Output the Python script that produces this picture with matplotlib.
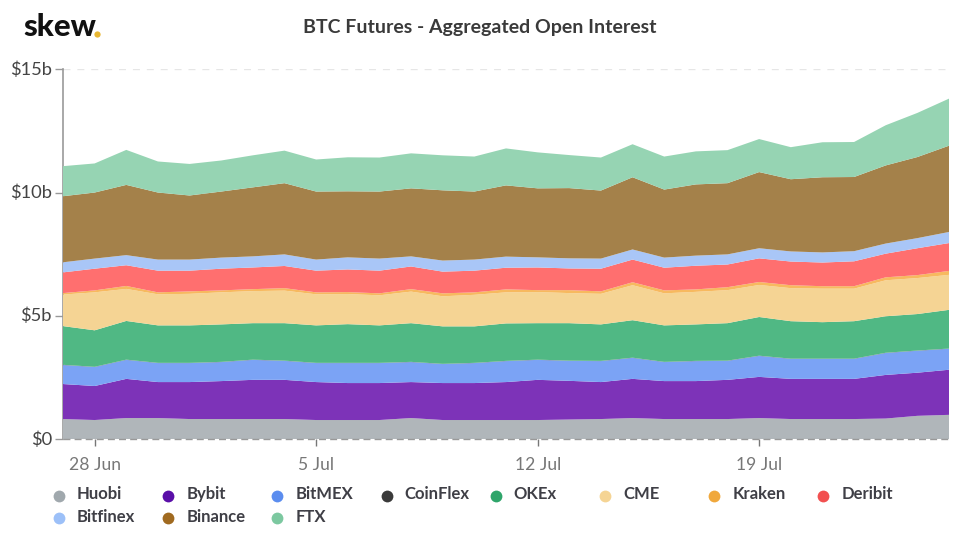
import numpy as np
import pandas as pd
import matplotlib
matplotlib.use('Agg')
import matplotlib.pyplot as plt
import matplotlib.dates as mdates
from matplotlib.lines import Line2D
from matplotlib.transforms import ScaledTranslation

plt.rcParams['font.family'] = ['Lato', 'DejaVu Sans']

# open interest per exchange, $b, one value per day
dates = pd.date_range('2020-06-27', '2020-07-25', freq='D')
huobi = [.81,.77,.85,.85,.81,.81,.81,.81,.77,.77,.77,.85,.77,.77,.77,.77,.79,.81,.85,.81,.81,.81,.85,.81,.81,.81,.83,.94,.98]
bybit = [1.42,1.38,1.59,1.46,1.50,1.54,1.59,1.59,1.54,1.50,1.50,1.46,1.50,1.50,1.54,1.63,1.57,1.50,1.59,1.54,1.54,1.59,1.67,1.63,1.63,1.63,1.77,1.75,1.83]
bitmex = [.77,.77,.77,.77,.77,.77,.81,.77,.77,.81,.81,.81,.77,.81,.85,.81,.81,.85,.85,.77,.81,.77,.85,.81,.81,.81,.89,.89,.85]
coinflex = [.01] * 29
okex = [1.57,1.48,1.57,1.52,1.52,1.52,1.48,1.52,1.52,1.57,1.52,1.57,1.52,1.48,1.52,1.48,1.52,1.48,1.52,1.48,1.48,1.52,1.57,1.52,1.48,1.52,1.48,1.48,1.57]
cme = [1.28,1.54,1.30,1.26,1.28,1.30,1.30,1.32,1.26,1.22,1.22,1.28,1.22,1.28,1.26,1.26,1.22,1.24,1.42,1.30,1.32,1.34,1.30,1.34,1.36,1.32,1.46,1.46,1.42]
kraken = [.06,.08,.12,.08,.10,.08,.08,.10,.08,.08,.08,.10,.12,.10,.12,.08,.12,.10,.12,.12,.10,.12,.12,.12,.10,.10,.12,.12,.16]
deribit = [.84,.88,.84,.88,.84,.88,.88,.90,.88,.92,.92,.92,.88,.88,.88,.92,.88,.92,.92,.92,.96,.92,.96,.96,.96,1.01,.96,1.09,1.13]
bitfinex = [.41,.41,.41,.45,.45,.45,.45,.47,.45,.49,.49,.41,.45,.45,.45,.41,.41,.41,.41,.41,.41,.41,.41,.41,.41,.41,.41,.41,.45]
binance = [2.68,2.68,2.85,2.72,2.60,2.68,2.80,2.89,2.76,2.68,2.72,2.76,2.85,2.76,2.89,2.80,2.85,2.76,2.93,2.76,2.89,2.89,3.09,2.93,3.05,3.01,3.17,3.29,3.50]
ftx = [1.22,1.18,1.42,1.26,1.28,1.26,1.30,1.32,1.30,1.38,1.38,1.42,1.42,1.42,1.50,1.46,1.34,1.34,1.34,1.34,1.34,1.34,1.34,1.30,1.42,1.42,1.63,1.79,1.91]

names = ['Huobi', 'Bybit', 'BitMEX', 'CoinFlex', 'OKEx', 'CME', 'Kraken', 'Deribit', 'Bitfinex', 'Binance', 'FTX']
series = [huobi, bybit, bitmex, coinflex, okex, cme, kraken, deribit, bitfinex, binance, ftx]
fills = ['#b0b6ba', '#7d33b8', '#7ba3f5', '#555555', '#50b884', '#f5d494', '#f7b95f', '#ff6f6f', '#a9c6f7', '#a4814a', '#96d4b3']
dots = ['#a0a8ad', '#5a0fa8', '#5b8def', '#3a3a3a', '#2fa56a', '#f5d494', '#f0a83c', '#f25050', '#9cc0f8', '#a06a20', '#7cc8a0']

W, H = 960, 536
fig = plt.figure(figsize=(W / 100, H / 100), dpi=100)
ax = fig.add_axes((63 / W, 1 - 439 / H, 886 / W, 369.7 / H))

ax.stackplot(dates, series, colors=fills, linewidth=0, zorder=3)
ax.set_xlim(dates[0], dates[-1])
ax.set_ylim(0, 15)

ax.set_yticks([0, 5, 10, 15])
ax.set_yticklabels(['$0', '$5b', '$10b', '$15b'], fontsize=13.2, color='#444444')
ax.set_xticks(pd.to_datetime(['2020-06-28', '2020-07-05', '2020-07-12', '2020-07-19']))
ax.xaxis.set_major_formatter(mdates.DateFormatter('%-d %b'))
ax.tick_params(axis='x', length=5, width=1, color='#777777', labelcolor='#777777', labelsize=12.6, pad=8)
ax.tick_params(axis='y', length=6, width=1, color='#999999', pad=2)

# labels sit a little above their ticks in the original
nudge = ScaledTranslation(0, 0.8 / 72, fig.dpi_scale_trans)
for lab in ax.get_yticklabels():
    lab.set_transform(lab.get_transform() + nudge)

ax.grid(axis='y', linestyle=(0, (5, 5)), color='#e6e6e6', linewidth=1, zorder=1)
for side in ['top', 'right', 'bottom']:
    ax.spines[side].set_visible(False)
ax.spines['left'].set_color('#999999')
ax.spines['left'].set_linewidth(1.2)
ax.axhline(0, color='#999999', linestyle=(0, (5, 3)), linewidth=1, zorder=4, clip_on=False)

fig.text(480 / W, 1 - 27 / H, 'BTC Futures - Aggregated Open Interest', ha='center', va='center',
         fontsize=14, fontweight='bold', color='#3a3a3a')

# logo
fig.text(23 / W, 1 - 36 / H, 'skew', ha='left', va='baseline', fontsize=22.5, fontweight='black', color='#111111')
fig.add_artist(Line2D([96.5 / W], [1 - 33.5 / H], marker='o', markersize=4.5, color='#e8b631', linestyle='none',
                      markeredgewidth=0, transform=fig.transFigure))

# legend by hand, the original runs in rows of eight
for i, (name, dot) in enumerate(zip(names, dots)):
    col, row = i % 8, i // 8
    x = (59 + col * 109.2) / W
    y = 1 - (495.5 + row * 22.7) / H
    fig.add_artist(Line2D([x], [y], marker='o', markersize=8.5, color=dot, linestyle='none', markeredgewidth=0,
                          transform=fig.transFigure))
    fig.text(x + 18 / W, y + 1.5 / H, name, ha='left', va='center', fontsize=12, fontweight='bold', color='#3f3f46')

fig.savefig('out.png', dpi=100)
